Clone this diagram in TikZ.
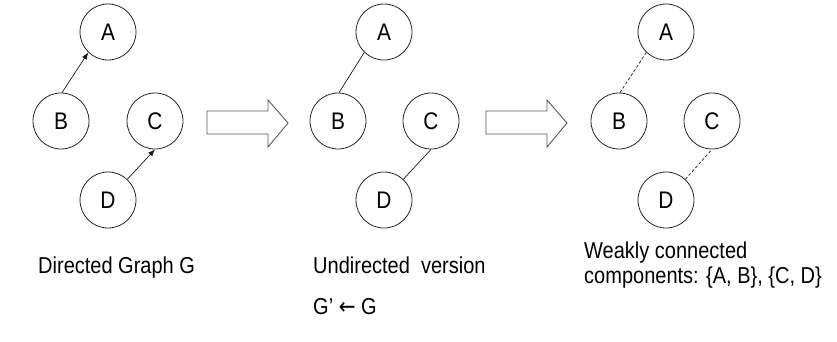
\documentclass[tikz,border=0pt]{standalone}
\usepackage{fontspec}
\setmainfont{Liberation Sans}[FakeStretch=0.87]
\newfontfamily\symfont{DejaVu Sans}[FakeStretch=0.87]
\usetikzlibrary{arrows.meta}
\begin{document}
\begin{tikzpicture}[x=1pt,y=-1pt,
  vertex/.style={circle,draw=black!85,line width=0.8pt,minimum size=56pt,inner sep=0pt,font=\fontsize{24}{28}\selectfont},
  diredge/.style={draw=black!90,line width=0.7pt,-{Latex[length=7pt,width=5.5pt]}},
  undedge/.style={draw=black!90,line width=0.7pt},
  weakedge/.style={draw=black!90,line width=0.7pt,dash pattern=on 3pt off 2pt},
  bigarrow/.style={draw=black!65,line width=0.9pt,fill=white},
  caption/.style={anchor=base west,inner sep=0pt,font=\fontsize{23}{25}\selectfont}]
\useasboundingbox (0,0) rectangle (837,341);

% directed graph
\node[vertex] (a1) at (108,32) {A};
\node[vertex] (b1) at (61,121) {B};
\node[vertex] (c1) at (155,121) {C};
\node[vertex] (d1) at (108,200) {D};
\draw[diredge] (b1.88) -- (a1.226);
\draw[diredge] (d1.47) -- (c1.south);

% undirected version
\node[vertex] (a2) at (384,32) {A};
\node[vertex] (b2) at (338,121) {B};
\node[vertex] (c2) at (431,121) {C};
\node[vertex] (d2) at (384,200) {D};
\draw[undedge] (b2.88) -- (a2.226);
\draw[undedge] (d2.47) -- (c2.south);

% weakly connected components
\node[vertex] (a3) at (666,32) {A};
\node[vertex] (b3) at (619,121) {B};
\node[vertex] (c3) at (712,121) {C};
\node[vertex] (d3) at (666,200) {D};
\draw[weakedge] (b3.88) -- (a3.226);
\draw[weakedge] (d3.47) -- (c3.south);

% block arrows between the stages
\draw[bigarrow] (207,111) -- (268,111) -- (268,100) -- (288,123) -- (268,147) -- (268,134) -- (207,134) -- cycle;
\draw[bigarrow] (486,111) -- (547,111) -- (547,100) -- (567,123) -- (547,147) -- (547,134) -- (486,134) -- cycle;

% captions
\node[caption] (t1) at (38,273) {Directed Graph G};
\node[caption] (t2) at (313,273) {Undirected\ \ version};
\node[caption] (t3) at (313,314) {G’ {\symfont ←} G};
\node[caption] (t4) at (584,258) {Weakly connected};
\node[caption] (t5) at (584,283) {components: \{A, B\}, \{C, D\}};
\end{tikzpicture}
\end{document}
